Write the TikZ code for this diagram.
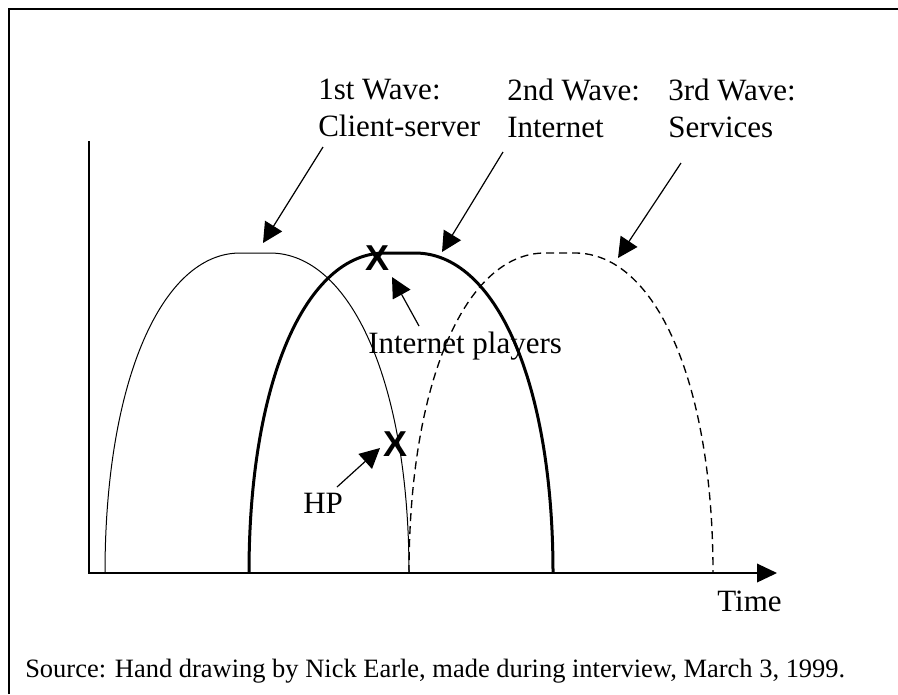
\documentclass[tikz,border=0pt]{standalone}
\usepackage{fontspec}
\setmainfont{Liberation Serif}
\newfontfamily\markfont{Liberation Sans}
\usetikzlibrary{arrows.meta}

\begin{document}
\begin{tikzpicture}[x=0.75pt, y=-0.75pt,
    every node/.style={inner sep=0pt, font=\fontsize{23.25}{27.75}\selectfont},
    txt/.style={anchor=base west},
    wavetxt/.style={anchor=north west, align=left},
    xmark/.style={font=\markfont\bfseries\fontsize{27}{27}\selectfont},
    pointer/.style={line width=0.9pt, -{Triangle[length=15pt, width=15pt]}},
    axisline/.style={line width=1.1pt, -{Triangle[length=15pt, width=14pt]}}]
    \useasboundingbox (0,0) rectangle (898,694);
    \draw[line width=1.1pt] (9,694) -- (9,9) -- (898,9);
    % axes
    \coordinate (ytop) at (89,141);
    \coordinate (origin) at (89,573);
    \coordinate (xend) at (777,573);
    \draw[axisline] (ytop) -- (origin) -- (xend);
    % the three waves
    \draw[line width=0.75pt] (105,573) .. controls (105,381) and (162,253) .. (240,253) -- (270,253)
        .. controls (350,253) and (409,381) .. (409,573);
    \draw[line width=2.25pt] (249,573) .. controls (249,381) and (306,253) .. (385,253) -- (415,253)
        .. controls (495,253) and (553,381) .. (553,573);
    \draw[line width=1pt, dash pattern=on 6pt off 3.75pt] (409,573) .. controls (409,381) and (466,253) .. (545,253) -- (575,253)
        .. controls (655,253) and (713,381) .. (713,573);
    % labels
    \node[wavetxt] (w1lbl) at (318,79) {1st Wave:\\Client-server};
    \node[wavetxt] (w2lbl) at (507,79) {2nd Wave:\\Internet};
    \node[wavetxt] (w3lbl) at (668,79) {3rd Wave:\\Services};
    \node[txt] (iplbl) at (368,353) {Internet players};
    \node[txt] (hplbl) at (303,513) {HP};
    \node[txt] (timelbl) at (717,611) {Time};
    \node[txt, font=\fontsize{19.85}{24}\selectfont] (srclbl) at (25,677) {Source: Hand drawing by Nick Earle, made during interview, March 3, 1999.};
    \node[xmark] (xinet) at (377,258) {X};
    \node[xmark] (xhp) at (395,444) {X};
    % pointers
    \coordinate (w1tail) at (323,147);
    \coordinate (w1tip) at (263,243);
    \coordinate (w2tail) at (503,152);
    \coordinate (w2tip) at (442,252);
    \coordinate (w3tail) at (681,163);
    \coordinate (w3tip) at (618,258);
    \coordinate (iptail) at (419,326);
    \coordinate (iptip) at (392,277);
    \coordinate (hptail) at (337,487);
    \coordinate (hptip) at (380,448);
    \draw[pointer] (w1tail) -- (w1tip);
    \draw[pointer] (w2tail) -- (w2tip);
    \draw[pointer] (w3tail) -- (w3tip);
    \draw[pointer] (iptail) -- (iptip);
    \draw[pointer] (hptail) -- (hptip);
\end{tikzpicture}
\end{document}
